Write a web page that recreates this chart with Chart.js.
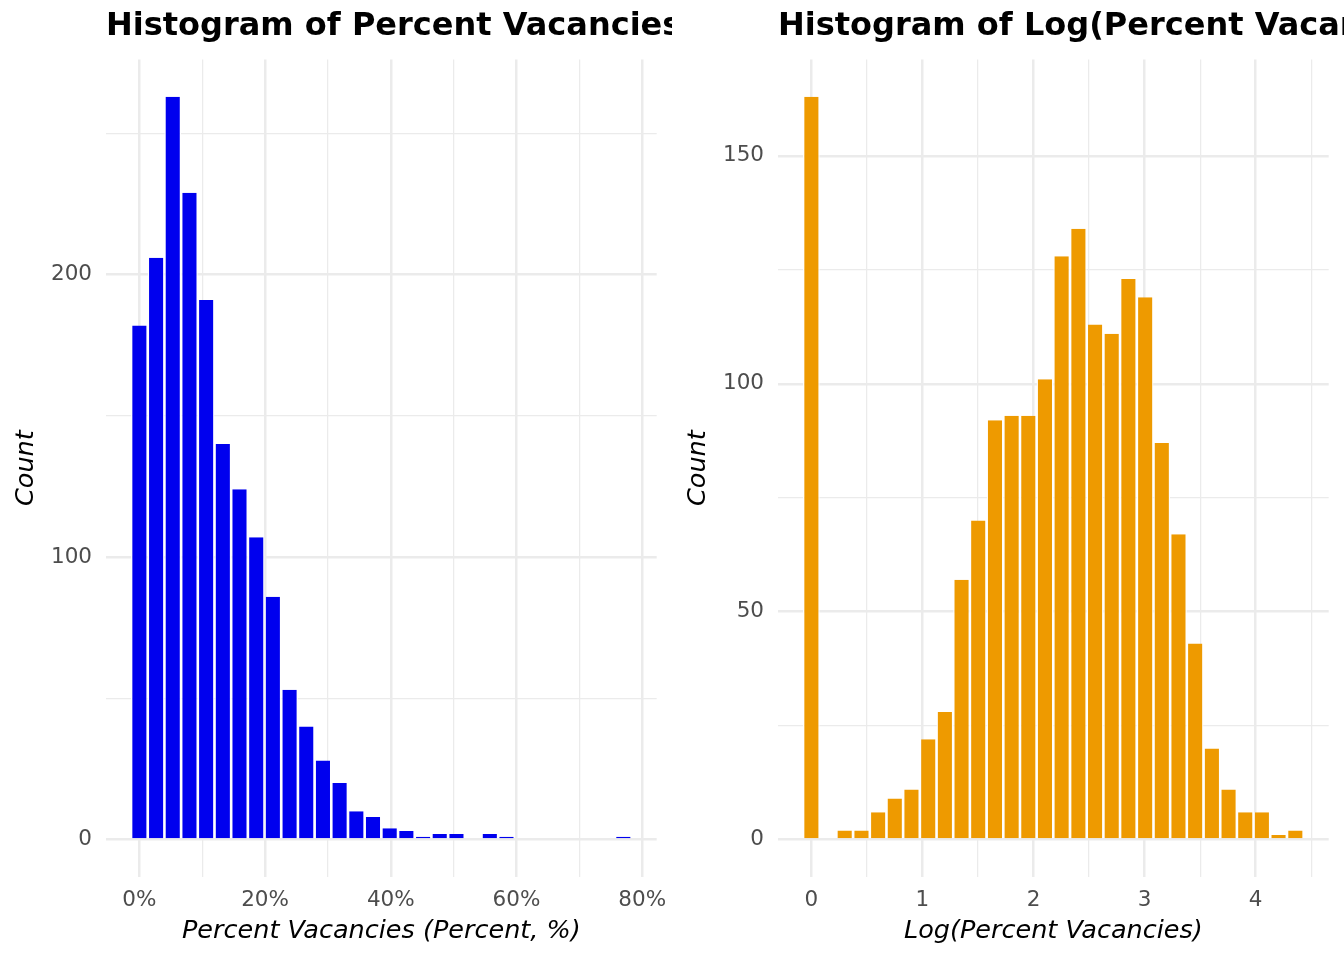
<!DOCTYPE html>
<html>
<head>
<meta charset="utf-8">
<script src="https://cdn.jsdelivr.net/npm/chart.js@4.4.1/dist/chart.umd.min.js"></script>
<style>
  body { margin: 0; background: #fff; }
  .wrap { display: flex; width: 1344px; height: 960px; }
  canvas { display: block; }
</style>
</head>
<body>
<div class="wrap">
  <canvas id="chart-pct" width="672" height="960"></canvas>
  <canvas id="chart-log" width="672" height="960"></canvas>
</div>
<script>
// bin centres (binwidth ~2.655 % / ~0.150 log units) and counts
const pctBins = [0, 2.66, 5.31, 7.97, 10.62, 13.28, 15.93, 18.59, 21.24, 23.9, 26.55, 29.21, 31.86, 34.52, 37.17,
  39.83, 42.48, 45.14, 47.79, 50.45, 53.1, 55.76, 58.41, 61.07, 63.72, 66.38, 69.03, 71.69, 74.34, 77]
const pctCounts = [182, 206, 263, 229, 191, 140, 124, 107, 86, 53, 40, 28, 20, 10, 8,
  4, 3, 1, 2, 2, 0, 2, 1, 0, 0, 0, 0, 0, 0, 1]

const logBins = [0, 0.15, 0.3, 0.451, 0.601, 0.751, 0.901, 1.052, 1.202, 1.352, 1.502, 1.653, 1.803, 1.953, 2.103,
  2.253, 2.404, 2.554, 2.704, 2.854, 3.005, 3.155, 3.305, 3.455, 3.606, 3.756, 3.906, 4.056, 4.206, 4.357]
const logCounts = [163, 0, 2, 2, 6, 9, 11, 22, 28, 57, 70, 92, 93, 93, 101,
  128, 134, 113, 111, 123, 119, 87, 67, 43, 20, 11, 6, 6, 1, 2]

// ticks: empty label = minor grid line
const pctTicks = [0, 10, 20, 30, 40, 50, 60, 70, 80]
const pctTickLabels = ["0%", "", "20%", "", "40%", "", "60%", "", "80%"]
const pctCountTicks = [0, 50, 100, 150, 200, 250]
const pctCountLabels = ["0", "", "100", "", "200", ""]

const logTicks = [0, 0.5, 1, 1.5, 2, 2.5, 3, 3.5, 4, 4.5]
const logTickLabels = ["0", "", "1", "", "2", "", "3", "", "4", ""]
const logCountTicks = [0, 25, 50, 75, 100, 125, 150]
const logCountLabels = ["0", "", "50", "", "100", "", "150"]

const FONT = "'DejaVu Sans', 'Noto Sans', sans-serif"
const GRID = "#EBEBEB"

// let the title run past the plot width and get cut by the canvas edge
const titleSpan = {
  id: "titleSpan",
  afterLayout(chart) {
    const t = chart.titleBlock
    if (t) { t.left = chart.chartArea.left; t.right = t.left + 2000 }
  }
}

// keep the plot area fixed, no extra room for edge labels
function noPad(s) {
  s.paddingLeft = 0
  s.paddingRight = 0
  s.paddingTop = 0
  s.paddingBottom = 0
}

function axis(ticks, labels, min, max, title) {
  return {
    type: "linear",
    min, max,
    offset: false,
    border: { display: false },
    grid: {
      offset: false,
      drawTicks: false,
      color: GRID,
      lineWidth: ctx => labels[ctx.index] ? 2.5 : 1.25
    },
    afterBuildTicks: s => { s.ticks = ticks.map(v => ({ value: v })) },
    ticks: {
      autoSkip: false,
      maxRotation: 0,
      color: "#4D4D4D",
      font: { family: FONT, size: 21.5 },
      callback: (v, i) => labels[i]
    },
    title: {
      display: true,
      text: title,
      color: "#000",
      font: { family: FONT, size: 25.5, style: "italic" }
    }
  }
}

function xAxis(ticks, labels, min, max, title) {
  const a = axis(ticks, labels, min, max, title)
  a.ticks.padding = 11.2
  a.title.padding = { top: 0, bottom: 13.7 }
  a.afterFit = s => { s.height = 83.3; noPad(s) }
  return a
}

function yAxis(ticks, labels, min, max) {
  const a = axis(ticks, labels, min, max, "Count")
  a.ticks.padding = 14
  a.title.padding = { top: 10.9, bottom: 0 }
  a.afterFit = s => { s.width = 106; noPad(s) }
  return a
}

function histogram(id, heading, bins, counts, color, xScale, yScale) {
  new Chart(document.getElementById(id), {
    type: "bar",
    data: {
      datasets: [{
        data: bins.map((b, i) => ({ x: b, y: counts[i] })),
        backgroundColor: color,
        borderColor: "#FFFFFF",
        borderWidth: { left: 1.3, right: 1.3, top: 0, bottom: 0 },
        borderSkipped: false,
        inflateAmount: 0,
        barPercentage: 1,
        categoryPercentage: 1
      }]
    },
    options: {
      responsive: false,
      animation: false,
      devicePixelRatio: 1,
      layout: { padding: { left: 0, right: 15.3, top: 0, bottom: 0 } },
      plugins: {
        legend: { display: false },
        tooltip: { enabled: false },
        title: {
          display: true,
          text: heading,
          align: "start",
          color: "#000",
          font: { family: FONT, size: 32, weight: "bold" },
          padding: { top: 7, bottom: 14.1 }
        }
      },
      scales: { x: xScale, y: yScale }
    },
    plugins: [titleSpan]
  })
}

histogram("chart-pct", "Histogram of Percent Vacancies", pctBins, pctCounts, "#0000EE",
  xAxis(pctTicks, pctTickLabels, -5.31, 82.31, "Percent Vacancies (Percent, %)"),
  yAxis(pctCountTicks, pctCountLabels, -13.15, 276.15))

histogram("chart-log", "Histogram of Log(Percent Vacancies)", logBins, logCounts, "#EE9A00",
  xAxis(logTicks, logTickLabels, -0.3005, 4.6575, "Log(Percent Vacancies)"),
  yAxis(logCountTicks, logCountLabels, -8.15, 171.15))
</script>
</body>
</html>
